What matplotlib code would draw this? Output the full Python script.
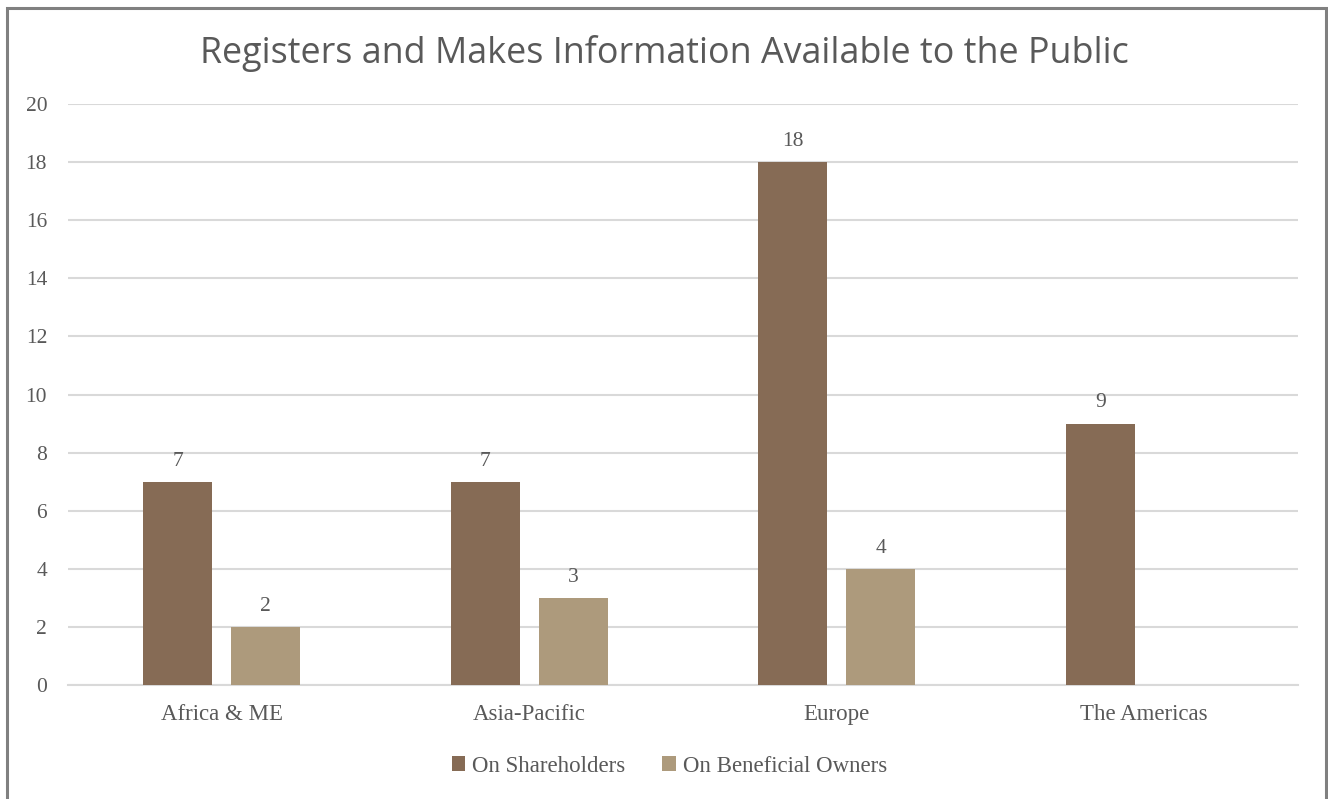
import numpy as np
import matplotlib.pyplot as plt
from matplotlib.patches import Rectangle

# data
regions = ["Africa & ME", "Asia-Pacific", "Europe", "The Americas"]
shareholders = [7, 7, 18, 9]
beneficial = [2, 3, 4, 0]
series_names = ["On Shareholders", "On Beneficial Owners"]
colors = ["#866B55", "#AD9A7C"]

fig = plt.figure(figsize=(13.28, 7.99), dpi=100)
ax = fig.add_axes([0.0512, 0.1427, 0.9262, 0.7271])

# outer frame like the spreadsheet chart border
fig.patches.append(Rectangle((0.0053, -0.05), 0.9932, 1.04, transform=fig.transFigure,
                             fill=False, edgecolor="#808080", linewidth=2.2))

x = np.arange(len(regions))
w = 0.224
off = 0.143
serif = "Liberation Serif"
txtc = "#595959"

b1 = ax.bar(x - off, shareholders, w, color=colors[0], label=series_names[0], zorder=3)
b2 = ax.bar(x + off, beneficial, w, color=colors[1], label=series_names[1], zorder=3)

for bars, vals in [(b1, shareholders), (b2, beneficial)]:
    for r, v in zip(bars, vals):
        if v == 0:
            continue
        ax.annotate(str(v), (r.get_x() + r.get_width() / 2, v), xytext=(0, 8),
                    textcoords="offset points", ha="center", va="bottom",
                    fontsize=15.5, family=serif, color=txtc)

ax.set_xlim(-0.5, 3.5)
ax.set_ylim(0, 20)
ax.set_yticks(range(0, 21, 2))
ax.yaxis.grid(True, color="#D9D9D9", linewidth=1.5, zorder=0)
ax.set_axisbelow(True)
for s in ["top", "right", "left"]:
    ax.spines[s].set_visible(False)
ax.spines["bottom"].set_color("#D9D9D9")
ax.spines["bottom"].set_linewidth(1.5)
ax.tick_params(length=0, labelsize=15.5, labelcolor=txtc)
ax.tick_params(axis="y", pad=15)
ax.tick_params(axis="x", pad=14, labelsize=16.5)
ax.set_xticks(x)
ax.set_xticklabels(regions)
for lab in ax.get_xticklabels() + ax.get_yticklabels():
    lab.set_family(serif)

fig.text(0.5, 0.933, "Registers and Makes Information Available to the Public",
         ha="center", va="center", fontsize=25.8, color=txtc, family="Open Sans")

leg = fig.legend(loc="center", bbox_to_anchor=(0.504, 0.041), ncol=2, frameon=False,
                 prop={"family": serif, "size": 16.5}, handlelength=0.6, handleheight=0.6,
                 handletextpad=0.3, columnspacing=1.6)
for t in leg.get_texts():
    t.set_color(txtc)

fig.savefig("out.png", dpi=100)
